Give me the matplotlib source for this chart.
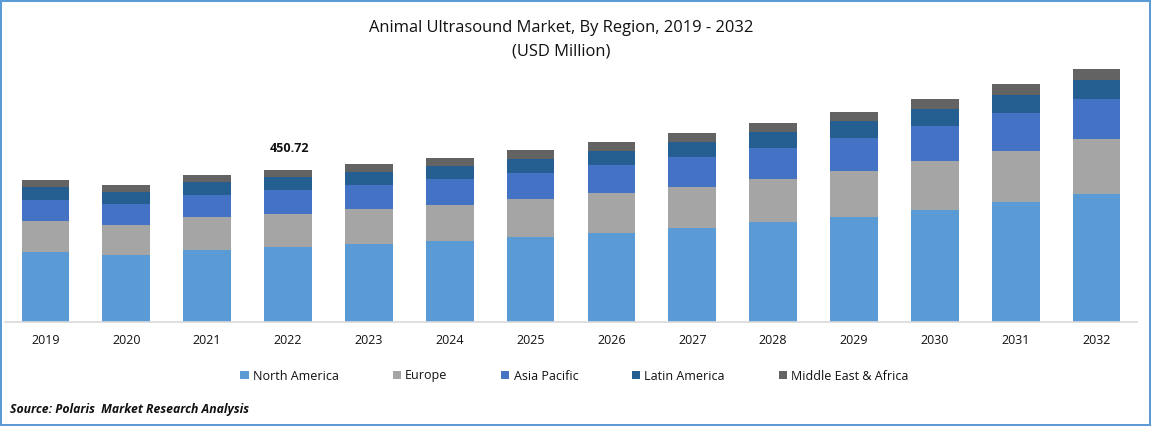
#!/usr/bin/env python3
"""Animal ultrasound market by region, stacked bars."""

import matplotlib

matplotlib.use("Agg")
import matplotlib.pyplot as plt
import numpy as np
from matplotlib.patches import Rectangle

WIDTH, HEIGHT = 1151, 426

years = [2019, 2020, 2021, 2022, 2023, 2024, 2025, 2026, 2027, 2028, 2029, 2030, 2031, 2032]
regions = ["North America", "Europe", "Asia Pacific", "Latin America", "Middle East & Africa"]
colors = ["#5B9BD5", "#A5A5A5", "#4472C4", "#255E91", "#636363"]

north_america = [207.6, 198.7, 213.5, 222.4, 231.3, 240.2, 252.0, 263.9, 278.7, 296.5, 311.3, 332.1, 355.8, 379.5]
europe = [91.9, 89.0, 97.8, 97.8, 103.8, 106.7, 112.7, 118.6, 121.6, 127.5, 136.4, 145.3, 151.2, 163.1]
asia_pacific = [62.3, 62.3, 65.2, 71.2, 71.2, 77.1, 77.1, 83.0, 89.0, 91.9, 97.8, 103.8, 112.7, 118.6]
latin_america = [38.5, 35.6, 38.5, 38.5, 39.4, 38.5, 41.5, 41.5, 44.5, 47.4, 50.4, 50.4, 53.4, 56.3]
middle_east = [20.8, 20.8, 20.8, 20.8, 22.8, 23.7, 26.7, 26.7, 26.7, 26.7, 26.7, 29.7, 32.6, 32.6]
series = [north_america, europe, asia_pacific, latin_america, middle_east]

plt.rcParams["font.family"] = ["Open Sans", "DejaVu Sans"]

fig = plt.figure(figsize=(WIDTH / 100, HEIGHT / 100), dpi=100)
# axes box in pixels: left 5, right 1137, baseline 322, top 50
ax = fig.add_axes([5.0 / WIDTH, 1 - 322 / HEIGHT, 1132 / WIDTH, 272 / HEIGHT])

x = np.arange(len(years))
bottom = np.zeros(len(years))
for values, region, color in zip(series, regions, colors):
    ax.bar(x, values, width=0.59, bottom=bottom, color=color, label=region)
    bottom += np.array(values)

ax.set_xlim(-0.5, len(years) - 0.5)
ax.set_ylim(0, 272 * 450.72 / 152)
ax.set_xticks(x, [str(y) for y in years])
ax.set_yticks([])
ax.tick_params(axis="x", length=0, pad=9, labelsize=9, labelcolor="#111111")
for side in ("top", "left", "right"):
    ax.spines[side].set_visible(False)
ax.spines["bottom"].set_color("#D9D9D9")
ax.spines["bottom"].set_linewidth(1.2)

ax.annotate("450.72", (3, bottom[3]), xytext=(1, 11), textcoords="offset points",
            ha="center", va="bottom", fontsize=9, fontweight="bold", color="#111111")

fig.text(561 / WIDTH, 1 - 28.5 / HEIGHT, "Animal Ultrasound Market, By Region, 2019 - 2032",
         ha="center", va="center", fontsize=11.85, color="#111111")
fig.text(561 / WIDTH, 1 - 51 / HEIGHT, "(USD Million)",
         ha="center", va="center", fontsize=11.85, color="#111111")
fig.text(10 / WIDTH, 1 - 410 / HEIGHT, "Source: Polaris  Market Research Analysis",
         ha="left", va="center", fontsize=8.8, fontweight="bold", style="italic", color="#111111")

fig.legend(loc="center", bbox_to_anchor=(574.5 / WIDTH, 1 - 376 / HEIGHT), ncol=5, frameon=False,
           fontsize=9, handlelength=0.65, handleheight=0.65, handletextpad=0.35,
           columnspacing=4.3, labelcolor="#111111")

# blue frame around the whole picture
fig.add_artist(Rectangle((0, 0), 1, 1, transform=fig.transFigure, fill=False,
                         edgecolor="#5B9BD5", linewidth=2.9))

fig.savefig("out.png", dpi=100)
